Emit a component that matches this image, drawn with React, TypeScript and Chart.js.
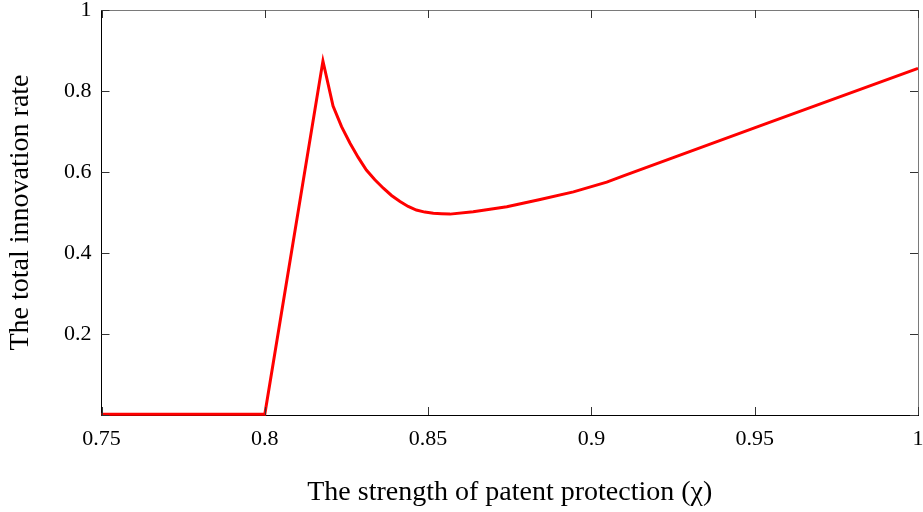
import React, { useEffect, useRef } from "react";
import { Chart, registerables } from "chart.js";

Chart.register(...registerables);

const chiValues = [
  0.75, 0.8, 0.8178, 0.8209, 0.8235, 0.8261, 0.8286, 0.8311, 0.8337, 0.8363,
  0.8388, 0.8414, 0.8439, 0.8464, 0.849, 0.8516, 0.8541, 0.8567, 0.8638,
  0.8741, 0.8843, 0.8945, 0.9047, 0.91, 0.9537, 1.0,
];
const innovationRate = [
  0.002, 0.002, 0.874, 0.763, 0.712, 0.671, 0.636, 0.605, 0.581, 0.56, 0.542,
  0.527, 0.515, 0.506, 0.501, 0.498, 0.497, 0.496, 0.502, 0.514, 0.532, 0.551,
  0.575, 0.591, 0.72, 0.856,
];
const xTickValues = [0.75, 0.8, 0.85, 0.9, 0.95, 1];
const yTickValues = [0, 0.2, 0.4, 0.6, 0.8, 1];

const FONT = "'Liberation Serif', 'Times New Roman', serif";

const boxPlugin = {
  id: "matlabBox",
  afterDraw(chart: any) {
    const { ctx, chartArea, scales } = chart;
    const { left, right, top, bottom } = chartArea;
    ctx.save();
    ctx.lineWidth = 1;
    ctx.strokeStyle = "#7a7a7a";
    ctx.beginPath();
    ctx.moveTo(left, top + 0.5);
    ctx.lineTo(right + 0.5, top + 0.5);
    ctx.lineTo(right + 0.5, bottom);
    ctx.stroke();
    const tl = 8;
    ctx.strokeStyle = "#333";
    ctx.beginPath();
    for (const v of xTickValues) {
      const px = Math.round(scales.x.getPixelForValue(v)) + 0.5;
      ctx.moveTo(px, bottom);
      ctx.lineTo(px, bottom - tl);
      ctx.moveTo(px, top);
      ctx.lineTo(px, top + tl);
    }
    for (const v of yTickValues) {
      const py = Math.round(scales.y.getPixelForValue(v)) + 0.5;
      ctx.moveTo(left, py);
      ctx.lineTo(left + tl, py);
      ctx.moveTo(right, py);
      ctx.lineTo(right - tl, py);
    }
    ctx.stroke();
    ctx.restore();
  },
};

export default function App() {
  const ref = useRef<HTMLCanvasElement | null>(null);
  useEffect(() => {
    if (!ref.current) return;
    const data = chiValues.map((x, i) => ({ x, y: innovationRate[i] }));
    const chart = new Chart(ref.current, {
      type: "line",
      data: {
        datasets: [
          {
            data,
            borderColor: "#ff0000",
            borderWidth: 3,
            pointRadius: 0,
            tension: 0,
            fill: false,
            clip: false as any,
          },
        ],
      },
      options: {
        animation: false,
        responsive: true,
        maintainAspectRatio: false,
        layout: { padding: { top: 10, right: 5, left: 0, bottom: 0 } },
        plugins: { legend: { display: false }, tooltip: { enabled: false } },
        scales: {
          x: {
            type: "linear",
            min: 0.75,
            max: 1,
            afterBuildTicks: (s: any) => {
              s.ticks = xTickValues.map((v) => ({ value: v }));
            },
            afterFit: (s: any) => {
              s.height = 97;
              s.paddingLeft = 0;
              s.paddingRight = 0;
            },
            grid: { display: false, drawTicks: false },
            border: { display: true, color: "#000", width: 1 },
            ticks: {
              color: "#000",
              padding: 11,
              font: { family: FONT, size: 22 },
              callback: (v: any) => String(Number(v)),
            },
            title: {
              display: true,
              text: "The strength of patent protection (χ)",
              color: "#000",
              font: { family: FONT, size: 28 },
              padding: { top: 0, bottom: 3 },
            },
          },
          y: {
            type: "linear",
            min: 0,
            max: 1,
            afterBuildTicks: (s: any) => {
              s.ticks = yTickValues.map((v) => ({ value: v }));
            },
            afterFit: (s: any) => {
              s.width = 101.5;
              s.paddingTop = 0;
              s.paddingBottom = 0;
            },
            grid: { display: false, drawTicks: false },
            border: { display: true, color: "#000", width: 1 },
            ticks: {
              color: "#000",
              padding: 10,
              font: { family: FONT, size: 22 },
              callback: (v: any) => (Number(v) === 0 ? "" : String(Number(v))),
            },
            title: {
              display: true,
              text: "The total innovation rate",
              color: "#000",
              font: { family: FONT, size: 28 },
              padding: { top: 4, bottom: 0 },
            },
          },
        },
      },
      plugins: [boxPlugin],
    });
    return () => chart.destroy();
  }, []);
  return (
    <div
      style={{
        position: "fixed",
        left: 0,
        top: 0,
        width: 923,
        height: 512,
        background: "#fff",
      }}
    >
      <canvas ref={ref} />
    </div>
  );
}
